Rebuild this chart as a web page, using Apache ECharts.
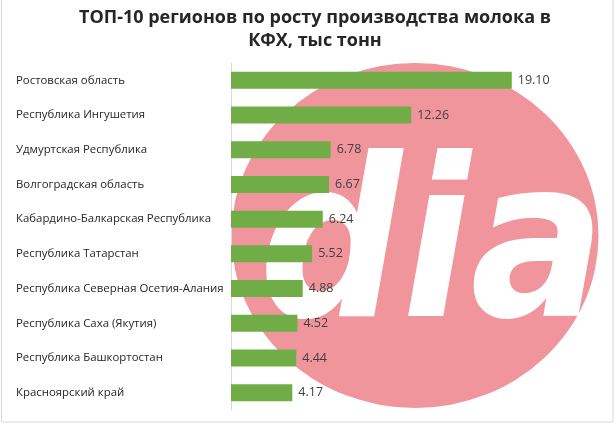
<!DOCTYPE html>
<html>
<head>
<meta charset="utf-8">
<script src="https://cdn.jsdelivr.net/npm/echarts@6/dist/echarts.min.js"></script>
<style>
html,body{margin:0;padding:0;background:#fff;}
#charts{width:616px;height:440px;}
</style>
</head>
<body>
<div id="charts"></div>
<script>
var regions = ['Ростовская область','Республика Ингушетия','Удмуртская Республика','Волгоградская область',
	'Кабардино-Балкарская Республика','Республика Татарстан','Республика Северная Осетия-Алания',
	'Республика Саха (Якутия)','Республика Башкортостан','Красноярский край'];
var growth = [19.10, 12.26, 6.78, 6.67, 6.24, 5.52, 4.88, 4.52, 4.44, 4.17];

var charts = echarts.init(document.getElementById('charts'));
var option = {
	animation: false,
	backgroundColor: '#fff',
	title: {
		text: 'ТОП-10 регионов по росту производства молока в\nКФХ, тыс тонн',
		left: 310,
		top: 1,
		textAlign: 'center',
		textStyle: {
			fontFamily: 'Open Sans',
			fontSize: 18,
			fontWeight: 'bold',
			color: '#262626',
			lineHeight: 23
		}
	},
	//背景水印
	graphic: [{
		type: 'rect',
		z: -5,
		shape: {x: 1.5, y: -1, width: 611.5, height: 423},
		style: {fill: '#fff', stroke: '#D9D9D9', lineWidth: 1}
	},{
		type: 'circle',
		z: -4,
		x: 415, y: 235.5,
		scaleX: 1.064,
		shape: {cx: 0, cy: 0, r: 172.5},
		style: {fill: '#F1959D'}
	},{
		type: 'text',
		z: -3,
		x: 432, y: 258,
		style: {
			text: 'dia',
			fill: '#fff',
			fontFamily: 'DejaVu Sans Condensed',
			fontSize: 222,
			fontWeight: 'bold',
			fontStyle: 'italic',
			align: 'center',
			verticalAlign: 'middle'
		}
	}],
	grid: {
		left: 231,
		right: 91,
		top: 63,
		bottom: 30,
		containLabel: false
	},
	xAxis: {
		type: 'value',
		min: 0,
		max: 20,
		show: false
	},
	yAxis: {
		type: 'category',
		data: regions,
		inverse: true,
		axisLine: {show: true, lineStyle: {color: '#D9D9D9', width: 1}},
		axisTick: {show: false},
		axisLabel: {
			align: 'left',
			margin: 215,
			fontFamily: 'Open Sans',
			fontSize: 11.4,
			color: '#262626'
		}
	},
	series: [{
		type: 'bar',
		data: growth,
		barWidth: 17,
		itemStyle: {color: '#70AD47'},
		label: {
			show: true,
			position: 'right',
			distance: 6,
			formatter: function(p){ return p.value.toFixed(2); },
			fontFamily: 'Open Sans',
			fontSize: 12.5,
			color: '#404040'
		}
	}]
};
charts.setOption(option);
</script>
</body>
</html>
